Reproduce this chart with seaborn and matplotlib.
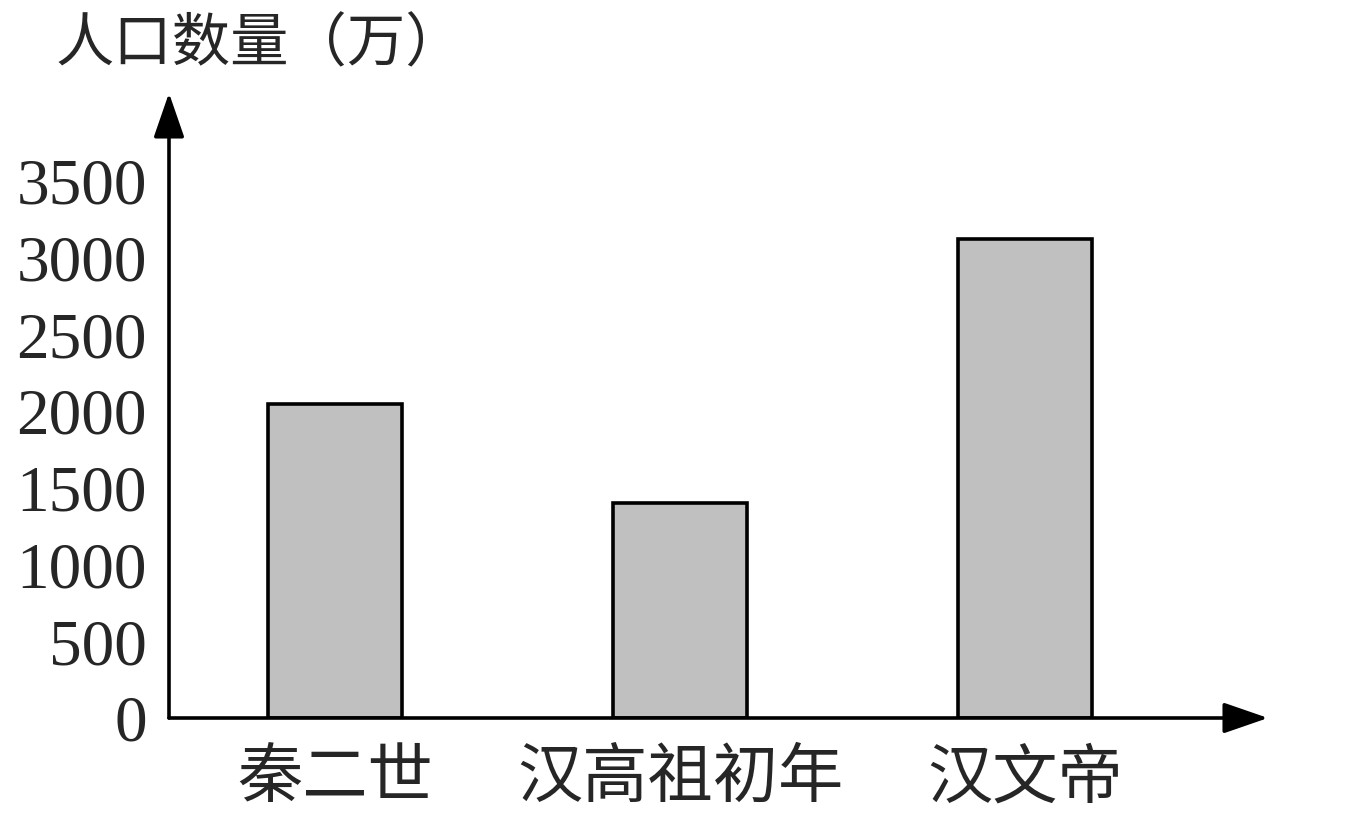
import matplotlib
matplotlib.use('Agg')
import matplotlib.pyplot as plt
import seaborn as sns
import pandas as pd

# ---- data ----
categories = ['秦二世', '汉高祖初年', '汉文帝']
population = [2050, 1400, 3120]
y_ticks = [0, 500, 1000, 1500, 2000, 2500, 3000, 3500]
y_title = '人口数量（万）'

sns.set_theme(style='white')
plt.rcParams['font.family'] = ['Liberation Serif', 'Noto Sans CJK SC']

W, H = 1368, 824
fig = plt.figure(figsize=(W / 100, H / 100), dpi=100)
left, right = 169, 1268
bottom, top = 718, 93
ax = fig.add_axes([left / W, 1 - bottom / H, (right - left) / W, (bottom - top) / H])

df = pd.DataFrame({'cat': categories, 'pop': population})
sns.barplot(data=df, x='cat', y='pop', color='#c0c0c0', saturation=1,
            edgecolor='black', linewidth=2.6, width=0.39, ax=ax)

ax.set_xlim(-0.481, 2.704)
ax.set_ylim(0, 4074)
for s in ax.spines.values():
    s.set_visible(False)

arrow_kw = dict(arrowstyle='-|>,head_length=0.55,head_width=0.19', lw=2.6,
                color='black', mutation_scale=50, shrinkA=0, shrinkB=0)
ax.annotate('', xy=(0, 1), xytext=(0, 0), xycoords='axes fraction',
            textcoords='axes fraction', arrowprops=arrow_kw, annotation_clip=False)
ax.annotate('', xy=(1, 0), xytext=(0, 0), xycoords='axes fraction',
            textcoords='axes fraction', arrowprops=arrow_kw, annotation_clip=False)

ax.set_yticks(y_ticks)
ax.set_yticklabels([str(v) for v in y_ticks], fontsize=47, family='Liberation Serif')
ax.set_xticks(range(len(categories)))
ax.set_xticklabels(categories, fontsize=47, family='Noto Sans CJK SC')
ax.tick_params(axis='y', length=0, pad=16)
ax.tick_params(axis='x', length=0, pad=20)
ax.set_xlabel('')
ax.set_ylabel('')

fig.text(55 / W, 1 - 45 / H, y_title, fontsize=42, va='center', ha='left',
         family='Noto Sans CJK SC')

fig.savefig('out.png', dpi=100, facecolor='white')
